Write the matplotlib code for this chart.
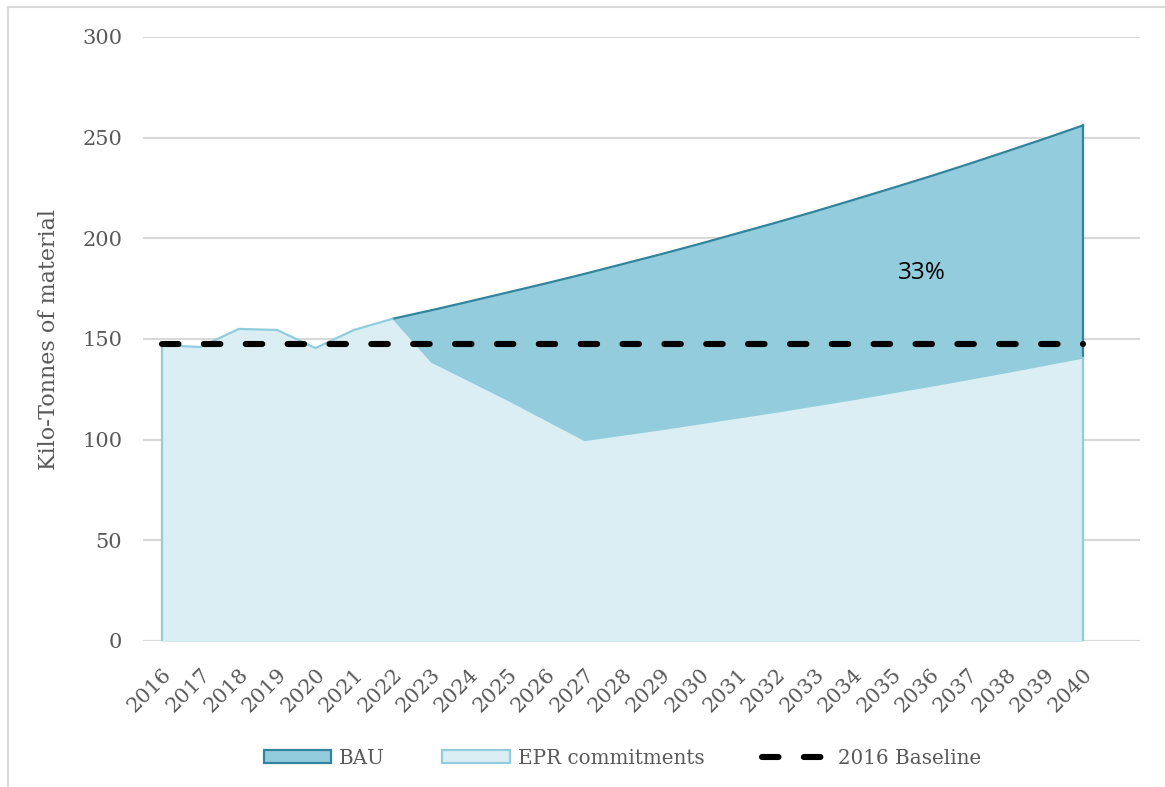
import matplotlib.pyplot as plt
from matplotlib.lines import Line2D
from matplotlib.patches import Patch

years = list(range(2016, 2041))
bau = [147, 146, 155, 154.5, 145.5, 154.5, 160, 164.2, 168.6, 173.1, 177.6,
       182.3, 187.2, 192.1, 197.2, 202.5, 207.8, 213.3, 219.0, 224.8, 230.7,
       236.8, 243.1, 249.5, 256.1]
epr = [147, 146, 155, 154.5, 145.5, 154.5, 160, 138.5, 129, 119.5, 109.5,
       99.5, 102.2, 104.9, 107.8, 110.7, 113.6, 116.7, 119.8, 123.1, 126.4,
       129.8, 133.3, 136.9, 140.5]
baseline = [147.5] * len(years)
yticks = [0, 50, 100, 150, 200, 250, 300]

plt.rcParams['font.family'] = ['DejaVu Serif']
text_grey = '#595959'
dash = (2.7, 4.15)

fig = plt.figure(figsize=(11.65, 7.87), dpi=100)
ax = fig.add_axes([143 / 1165, 146 / 787, 997 / 1165, 604 / 787])

# BAU behind, EPR on top
ax.fill_between(years, 0, bau, color='#93CDDD', lw=0, zorder=2)
ax.plot(years[6:], bau[6:], color='#31849B', lw=1.6, zorder=3)
ax.plot([years[-1], years[-1]], [epr[-1], bau[-1]], color='#31849B', lw=1.6, zorder=3)
ax.fill_between(years, 0, epr, color='#DAEEF3', lw=0, zorder=4)
ax.plot(years, epr[:7] + [None] * 18, color='#92CDDD', lw=1.6, zorder=5)
ax.plot([years[0], years[0]], [0, epr[0]], color='#92CDDD', lw=1.6, zorder=5)
ax.plot([years[-1], years[-1]], [0, epr[-1]], color='#92CDDD', lw=1.6, zorder=5)
ax.plot(years, baseline, color='black', lw=4.4, dashes=dash,
        dash_capstyle='round', zorder=6)

ax.text(2035.8, 183, '33%', family='Open Sans', fontsize=17.5, color='black',
        ha='center', va='center', zorder=7)

ax.set_xlim(2015.505, 2041.485)
ax.set_ylim(0, 300)
ax.set_yticks(yticks)
ax.set_xticks(years)
ax.set_xticklabels([str(y) for y in years], rotation=45, ha='right',
                   rotation_mode='anchor', fontsize=15, color=text_grey)
ax.tick_params(axis='y', labelsize=15, labelcolor=text_grey, length=0, pad=15)
ax.tick_params(axis='x', length=0, pad=17)
ax.grid(axis='y', color='#D9D9D9', lw=1.5, zorder=0)
for s in ax.spines.values():
    s.set_visible(False)
ax.axhline(0, color='#D9D9D9', lw=1.5, zorder=1)
ax.set_ylabel('Kilo-Tonnes of material', fontsize=16, color=text_grey, labelpad=16)

handles = [
    Patch(facecolor='#93CDDD', edgecolor='#31849B', lw=1.6),
    Patch(facecolor='#DAEEF3', edgecolor='#92CDDD', lw=1.6),
    Line2D([0], [0], color='black', lw=4.4, dashes=dash, dash_capstyle='round'),
]
leg = fig.legend(handles, ['BAU', 'EPR commitments', '2016 Baseline'],
                 loc='center', bbox_to_anchor=(0.534, 1 - 758 / 787), ncol=3,
                 frameon=False, fontsize=14.3, handlelength=3.4, handleheight=0.65,
                 columnspacing=2.9, handletextpad=0.4)
for t in leg.get_texts():
    t.set_color(text_grey)

# chart border (cropped at right and bottom)
fig.add_artist(Line2D([8 / 1165, 1], [1 - 7 / 787, 1 - 7 / 787],
                      transform=fig.transFigure, color='#D9D9D9', lw=1.5))
fig.add_artist(Line2D([8 / 1165, 8 / 1165], [0, 1 - 7 / 787],
                      transform=fig.transFigure, color='#D9D9D9', lw=1.5))

fig.savefig('out.png', dpi=100)
